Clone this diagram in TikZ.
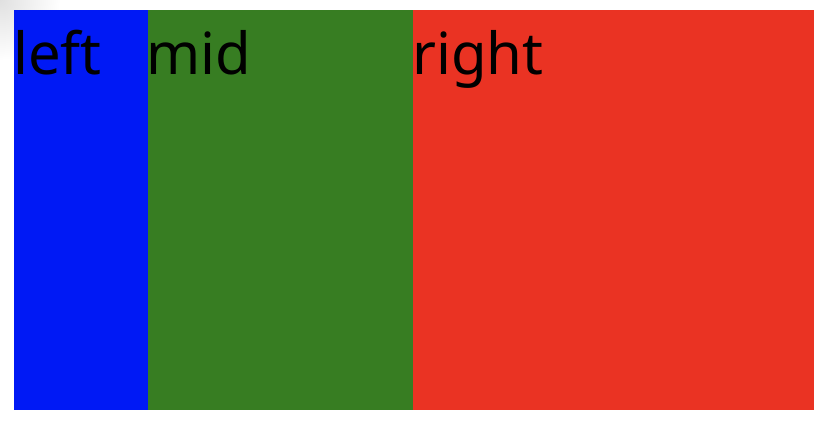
\documentclass[tikz,border=0pt]{standalone}
\usepackage{fontspec}
\setmainfont{Noto Sans}
\definecolor{cblue}{HTML}{0019F5}
\definecolor{cgreen}{HTML}{377D22}
\definecolor{cred}{HTML}{EA3323}
\begin{document}
\begin{tikzpicture}[x=1pt,y=-1pt,
  col/.style={draw=none},
  lbl/.style={anchor=base west,inner sep=0pt,font=\fontsize{58}{58}\selectfont,text=black}]
\useasboundingbox (0,0) rectangle (834,432);
\fill[white] (0,0) rectangle (834,432);
\begin{scope}
\clip (0,0) rectangle (60,60);
\shade[inner color=black!12,outer color=white] (0,0) circle (60);
\end{scope}
\fill[cblue] (14,10) rectangle (148,410);
\fill[cgreen] (148,10) rectangle (413,410);
\fill[cred] (413,10) rectangle (814,410);
\node[lbl] (l) at (13,74) {left};
\node[lbl] (m) at (146,74) {mid};
\node[lbl] (r) at (412,74) {right};
\end{tikzpicture}
\end{document}
